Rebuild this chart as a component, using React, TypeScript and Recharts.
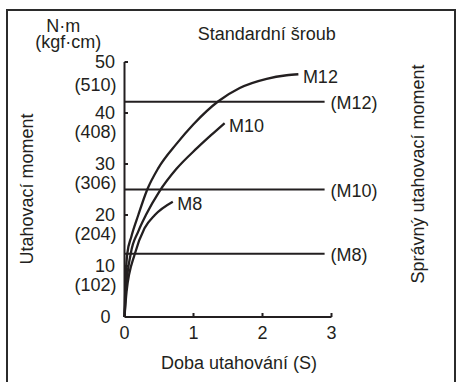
import React from 'react';
import { LineChart, Line, XAxis, YAxis } from 'recharts';

const INK = '#231f20';
const FONT = '"Liberation Sans", Arial, Helvetica, sans-serif';

// Tightening curves: time (s) vs. torque (N·m)
const m12X = [0, 0.01, 0.04, 0.1, 0.2, 0.33, 0.49, 0.75, 1.0, 1.36, 1.67, 2.06, 2.35, 2.52];
const m12Y = [0, 5, 12.4, 15.8, 20, 25, 29.2, 33.9, 37.8, 42.3, 44.9, 46.7, 47.4, 47.6];
const m10X = [0, 0.02, 0.09, 0.2, 0.31, 0.5, 0.75, 1.05, 1.25, 1.45];
const m10Y = [0, 5, 12.4, 16.8, 20, 24.5, 29, 33.1, 35.6, 38];
const m8X = [0, 0.03, 0.15, 0.29, 0.44, 0.7];
const m8Y = [0, 5, 12.4, 17.4, 20, 22.6];
const curveNames = ['M12', 'M10', 'M8'];

// Proper tightening torque levels
const refNames = ['(M12)', '(M10)', '(M8)'];
const refLevels = [42.2, 25, 12.4];
const refStartX = 0;
const refEndX = 2.9;

const xTicks = [0, 1, 2, 3];
const yTicks = [0, 10, 20, 30, 40, 50];
const yTicksKgf = ['', '(102)', '(204)', '(306)', '(408)', '(510)'];

const toPoints = (xs: number[], ys: number[]) => xs.map((x, i) => ({ x, y: ys[i] }));
const curves = [toPoints(m12X, m12Y), toPoints(m10X, m10Y), toPoints(m8X, m8Y)];
const refs = refLevels.map((v) => toPoints([refStartX, refEndX], [v, v]));

const textStyle = { fontFamily: FONT, fontSize: 18, fill: INK } as const;

const YTick = (props: any) => {
  const { x, y, payload } = props;
  const v = payload.value;
  const i = yTicks.indexOf(v);
  const kgf = yTicksKgf[i];
  return (
    <g>
      {v !== 0 && <line x1={x} x2={x + 3.5} y1={y} y2={y} stroke={INK} strokeWidth={2} />}
      <text x={v === 0 ? x - 14 : x - 9.5} y={y + 6} textAnchor="end" {...textStyle}>
        {v}
      </text>
      {kgf && (
        <text x={x - 8} y={y + (v === 50 ? 29 : 24.5)} textAnchor="end" {...textStyle}>
          {kgf}
        </text>
      )}
    </g>
  );
};

const XTick = (props: any) => {
  const { x, y, payload } = props;
  const v = payload.value;
  return (
    <g>
      {v !== 0 && <line x1={x} x2={x} y1={y} y2={y - 4} stroke={INK} strokeWidth={2} />}
      <text x={x} y={y + 21.5} textAnchor="middle" {...textStyle}>
        {v}
      </text>
    </g>
  );
};

const endLabel = (text: string, n: number, dx: number, dy: number) => (p: any) =>
  p.index === n - 1 ? (
    <text key={`lbl-${text}-${p.index}`} x={p.cx + dx} y={p.cy + dy} textAnchor="start" {...textStyle}>
      {text}
    </text>
  ) : (
    <g key={`empty-${text}-${p.index}`} />
  );

export default function App() {
  return (
    <div style={{ position: 'absolute', left: 0, top: 0, width: 456, height: 382, background: '#fff', overflow: 'hidden' }}>
      <div
        style={{
          position: 'absolute',
          left: 6,
          top: 9,
          width: 450,
          height: 380,
          border: '2px solid #2b2b2b',
          boxSizing: 'border-box',
        }}
      />
      <div style={{ position: 'absolute', left: 0, top: 0 }}>
        <LineChart width={456} height={382} margin={{ top: 62, right: 124.5, bottom: 35, left: 64.5 }}>
          <XAxis
            type="number"
            dataKey="x"
            domain={[0, 3]}
            ticks={xTicks}
            height={30}
            tickSize={0}
            tickMargin={0}
            tickLine={false}
            axisLine={{ stroke: INK, strokeWidth: 2 }}
            tick={<XTick />}
            interval={0}
          />
          <YAxis
            type="number"
            dataKey="y"
            domain={[0, 50]}
            ticks={yTicks}
            width={60}
            tickSize={0}
            tickMargin={0}
            tickLine={false}
            axisLine={{ stroke: INK, strokeWidth: 2 }}
            tick={<YTick />}
            interval={0}
          />
          {refs.map((d, i) => (
            <Line
              key={`ref-${i}`}
              data={d}
              dataKey="y"
              type="linear"
              stroke={INK}
              strokeWidth={2}
              isAnimationActive={false}
              activeDot={false}
              dot={endLabel(refNames[i], d.length, 6, 7.5)}
            />
          ))}
          {curves.map((d, i) => (
            <Line
              key={`curve-${i}`}
              data={d}
              dataKey="y"
              type="monotone"
              stroke={INK}
              strokeWidth={2.3}
              isAnimationActive={false}
              activeDot={false}
              dot={endLabel(curveNames[i], d.length, 4.5, 8.3)}
            />
          ))}
        </LineChart>
      </div>
      <svg width={456} height={382} style={{ position: 'absolute', left: 0, top: 0, pointerEvents: 'none' }}>
        <text x={266.7} y={40} textAnchor="middle" {...textStyle}>
          Standardní šroub
        </text>
        <text x={63.3} y={32} textAnchor="middle" {...textStyle}>
          N·m
        </text>
        <text x={68.3} y={48} textAnchor="middle" {...textStyle}>
          (kgf·cm)
        </text>
        <text x={239} y={369} textAnchor="middle" {...textStyle}>
          Doba utahování (S)
        </text>
        <text x={33} y={189} textAnchor="middle" transform="rotate(-90 33 189)" {...textStyle}>
          Utahovací moment
        </text>
        <text x={424} y={174} textAnchor="middle" transform="rotate(-90 424 174)" {...textStyle}>
          Správný utahovací moment
        </text>
      </svg>
    </div>
  );
}
